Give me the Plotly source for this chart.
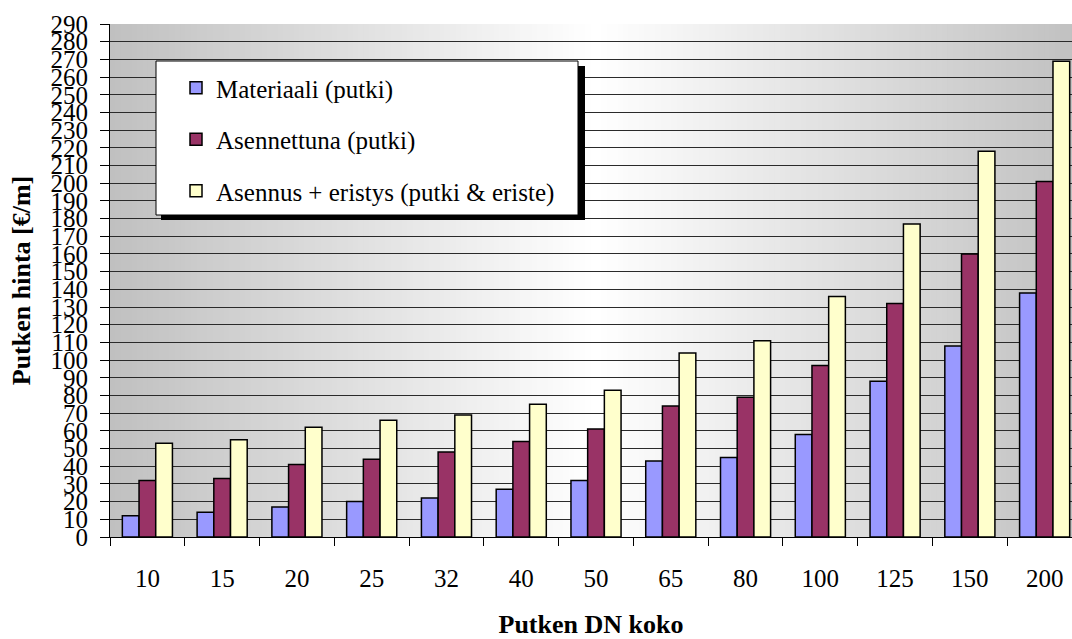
import plotly.graph_objects as go

# Pipe nominal sizes (DN) and prices per metre for each cost component
sizes = ["10", "15", "20", "25", "32", "40", "50", "65", "80", "100", "125", "150", "200"]
materiaali = [12, 14, 17, 20, 22, 27, 32, 43, 45, 58, 88, 108, 138]
asennettuna = [32, 33, 41, 44, 48, 54, 61, 74, 79, 97, 132, 160, 201]
asennus_eristys = [53, 55, 62, 66, 69, 75, 83, 104, 111, 136, 177, 218, 269]

series_names = ["Materiaali (putki)", "Asennettuna (putki)", "Asennus + eristys (putki & eriste)"]
series_colors = ["#9999FF", "#993366", "#FFFFCC"]
y_ticks = list(range(0, 300, 10))

W, H = 1072, 639
ML, MR, MT, MB = 110, 0, 24, 102
PW, PH = W - ML - MR, H - MT - MB

FONT = "Liberation Serif"


def px_x(p):
    return (p - ML) / PW


def px_y(p):
    return (H - MB - p) / PH


fig = go.Figure()
for name, vals, col in zip(series_names, [materiaali, asennettuna, asennus_eristys], series_colors):
    fig.add_trace(go.Bar(
        x=sizes, y=vals, name=name, legendgroup=name,
        marker=dict(color=col, line=dict(color="#000000", width=1.5)),
    ))

# Horizontal grey-white-grey gradient behind the plot area
shapes = []
n = 180
lo, hi = -0.5, 12.5
step = (hi - lo) / n
mid = (lo + hi) / 2
half = (hi - lo) / 2
for i in range(n):
    x0 = lo + i * step
    c = x0 + step / 2
    t = abs(c - mid) / half
    g = round(255 - 63 * t)
    shapes.append(dict(
        type="rect", xref="x", yref="paper", x0=x0, x1=x0 + step * 1.8, y0=0, y1=1,
        fillcolor=f"rgb({g},{g},{g})", line=dict(width=0), layer="below",
    ))

# Legend frame with drop shadow
shapes.append(dict(type="rect", xref="paper", yref="paper",
                   x0=px_x(161), x1=px_x(585), y0=px_y(220), y1=px_y(66),
                   fillcolor="#000000", line=dict(width=0), layer="above"))
shapes.append(dict(type="rect", xref="paper", yref="paper",
                   x0=px_x(156), x1=px_x(578), y0=px_y(215), y1=px_y(61),
                   fillcolor="#FFFFFF", line=dict(color="#000000", width=1), layer="above"))

fig.update_layout(
    width=W, height=H,
    margin=dict(l=ML, r=MR, t=MT, b=MB),
    paper_bgcolor="#FFFFFF",
    plot_bgcolor="rgba(0,0,0,0)",
    barmode="group",
    bargap=0.33,
    bargroupgap=0,
    shapes=shapes,
    font=dict(family=FONT, color="#000000", size=24),
    showlegend=True,
    legend=dict(
        x=px_x(176), y=px_y(65), xanchor="left", yanchor="top",
        bgcolor="rgba(0,0,0,0)", borderwidth=0,
        font=dict(family=FONT, size=25, color="#000000"),
        tracegroupgap=16,
        traceorder="grouped",
    ),
    xaxis=dict(
        type="category",
        range=[-0.5, 12.366],
        showgrid=False,
        showline=True, linecolor="#000000", linewidth=1,
        ticks="outside", ticklen=8, tickcolor="#000000", tickson="boundaries",
        tickfont=dict(family=FONT, size=25, color="#000000"),
        ticklabelstandoff=19,
        title=dict(text="<b>Putken DN koko</b>", font=dict(family=FONT, size=26, color="#000000"), standoff=26),
    ),
    yaxis=dict(
        range=[0, 290],
        tickvals=y_ticks,
        ticktext=[str(v) for v in y_ticks],
        showgrid=True, gridcolor="#2a2a2a", gridwidth=1,
        zeroline=False,
        showline=True, linecolor="#000000", linewidth=1,
        ticks="outside", ticklen=9, tickcolor="#000000",
        tickfont=dict(family=FONT, size=25, color="#000000"),
        ticklabelstandoff=7,
        title=dict(text="<b>Putken hinta [€/m]</b>", font=dict(family=FONT, size=26, color="#000000"), standoff=12),
    ),
)

fig.write_html("out.html")
